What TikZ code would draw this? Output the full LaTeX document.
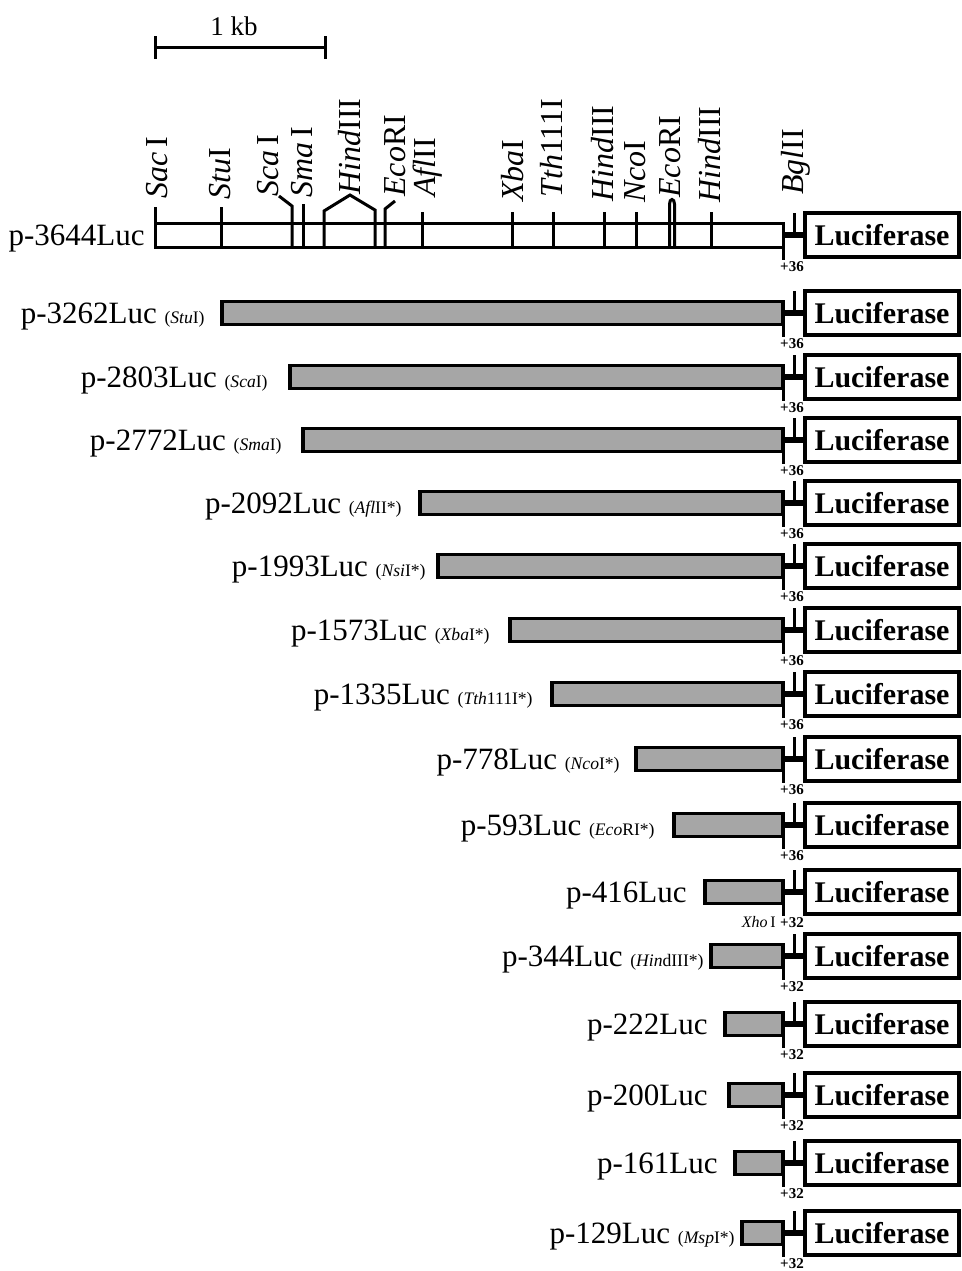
\documentclass[tikz,border=0pt]{standalone}
\usepackage{fontspec}
\setmainfont{Liberation Serif}
\newcommand\tagsz{\fontsize{8.8}{10}\selectfont}
\tikzset{
  thinline/.style={line width=1.5pt},
  maprect/.style={draw, line width=1.5pt, minimum height=12pt, inner sep=0pt, outer sep=0pt},
  barbox/.style={draw, line width=1.8pt, fill=black!35, minimum height=11.5pt, inner sep=0pt, outer sep=0pt},
  lucbox/.style={draw, line width=1.6pt, minimum width=77pt, minimum height=22pt, inner sep=0pt, outer sep=0pt,
    font=\fontsize{15}{17}\selectfont\bfseries},
  junction/.style={line width=2.8pt},
  rowlabel/.style={inner sep=0pt, anchor=base east, font=\fontsize{15.5}{18}\selectfont},
  sitelabel/.style={rotate=90, anchor=base west, inner sep=0pt, font=\fontsize{16}{18}\selectfont},
  junlabel/.style={inner sep=0pt, anchor=base, font=\fontsize{7.5}{9}\selectfont\bfseries},
}
% #1 id, #2 centre y, #3 bar left x, #4 label end x, #5 label, #6 junction label
\newcommand\constructrow[6]{%
  \node[barbox, minimum width={(783-#3)*0.5pt}, anchor=east] (bar#1) at (783,#2) {};
  \node[lucbox] (luc#1) at (882,#2) {Luciferase};
  \draw[junction] (bar#1.east) -- (luc#1.west);
  \coordinate (bgl#1) at (794,#2-22);
  \draw[thinline] (bgl#1) -- (bgl#1 |- luc#1.west);
  \coordinate (ext#1) at (783,#2+24);
  \draw[thinline] (bar#1.south east) -- (ext#1);
  \node[rowlabel] (lab#1) at (#4,#2+10) {#5};
  \node[junlabel] (pos#1) at (792,#2+35) {#6};
}
\begin{document}
\begin{tikzpicture}[x=0.5pt,y=-0.5pt]
\useasboundingbox (0,0) rectangle (962,1271);

% scale bar
\coordinate (sbL) at (155,47);
\coordinate (sbR) at (325,47);
\draw[thinline] (sbL) -- (sbR);
\draw[thinline] ([yshift=5.5pt]sbL) -- ([yshift=-6pt]sbL);
\draw[thinline] ([yshift=5.5pt]sbR) -- ([yshift=-6pt]sbR);
\node[inner sep=0pt, anchor=base, font=\fontsize{13.5}{15}\selectfont] (kb) at (234,35) {1 kb};

% full-length map
\node[maprect, minimum width={(783-155)*0.5pt}, anchor=west] (map) at (155,235) {};
\node[lucbox] (luc1) at (882,235) {Luciferase};
\draw[junction] (map.east) -- (luc1.west);
\coordinate (bgl1) at (794,213);
\draw[thinline] (bgl1) -- (bgl1 |- luc1.west);
\coordinate (ext1) at (783,260);
\draw[thinline] (map.north east) -- (ext1);
\node[rowlabel] (lab1) at (145,245) {p-3644Luc};
\node[junlabel] (pos1) at (792,271) {+36};

% site ticks
\draw[thinline] (155,247) -- (155,207);
\draw[thinline] (221,247) -- (221,207);
\draw[thinline] (292,247) -- (292,206) -- (279,196);
\draw[thinline] (303,247) -- (303,204);
\draw[thinline] (324,247) -- (324,211) -- (350,195) -- (375,210) -- (375,247);
\draw[thinline] (385,247) -- (385,209) -- (395,201);
\draw[thinline] (422,247) -- (422,212);
\draw[thinline] (512,247) -- (512,212);
\draw[thinline] (553,247) -- (553,212);
\draw[thinline] (604,247) -- (604,212);
\draw[thinline] (636,247) -- (636,212);
\draw[thinline] (669.5,247) -- (669.5,204) .. controls (669.5,198) and (674.5,198) .. (674.5,204) -- (674.5,247);
\draw[thinline] (711,247) -- (711,212);

% site labels
\node[sitelabel] (sSac)  at (167,199) {\textit{Sac}\,I};
\node[sitelabel] (sStu)  at (230,200) {\textit{Stu}I};
\node[sitelabel] (sSca)  at (278,197) {\textit{Sca}\,I};
\node[sitelabel] (sSma)  at (312,198) {\textit{Sma}\,I};
\node[sitelabel] (sHa)   at (360,195) {\textit{Hind}III};
\node[sitelabel] (sEa)   at (405,197) {\textit{Eco}RI};
\node[sitelabel] (sAfl)  at (435,197) {\textit{Afl}II};
\node[sitelabel] (sXba)  at (523,202) {\textit{Xba}I};
\node[sitelabel] (sTth)  at (562,198) {\textit{Tth}111I};
\node[sitelabel] (sHb)   at (613,202) {\textit{Hind}III};
\node[sitelabel] (sNco)  at (645,203) {\textit{Nco}I};
\node[sitelabel] (sEb)   at (680,198) {\textit{Eco}RI};
\node[sitelabel] (sHc)   at (720,203) {\textit{Hind}III};
\node[sitelabel] (sBgl)  at (803,195) {\textit{Bgl}II};

% deletion constructs
\constructrow{2}{313}{222}{205}{p-3262Luc {\tagsz(\textit{Stu}I)}}{+36}
\constructrow{3}{377}{290}{268}{p-2803Luc {\tagsz(\textit{Sca}I)}}{+36}
\constructrow{4}{440}{303}{282}{p-2772Luc {\tagsz(\textit{Sma}I)}}{+36}
\constructrow{5}{503}{420}{402}{p-2092Luc {\tagsz(\textit{Afl}II*)}}{+36}
\constructrow{6}{566}{438}{426}{p-1993Luc {\tagsz(\textit{Nsi}I*)}}{+36}
\constructrow{7}{630}{510}{490}{p-1573Luc {\tagsz(\textit{Xba}I*)}}{+36}
\constructrow{8}{694}{552}{533}{p-1335Luc {\tagsz(\textit{Tth}111I*)}}{+36}
\constructrow{9}{759}{636}{620}{p-778Luc {\tagsz(\textit{Nco}I*)}}{+36}
\constructrow{10}{825}{674}{655}{p-593Luc {\tagsz(\textit{Eco}RI*)}}{+36}
\constructrow{11}{892}{705}{687}{p-416Luc}{+32}
\node[inner sep=0pt, anchor=base east, font=\fontsize{8}{9}\selectfont] (xho) at (776,927) {\textit{Xho}\,I};
\constructrow{12}{956}{711}{704}{p-344Luc {\tagsz(\textit{Hin}dIII*)}}{+32}
\constructrow{13}{1024}{725}{708}{p-222Luc}{+32}
\constructrow{14}{1095}{729}{708}{p-200Luc}{+32}
\constructrow{15}{1163}{735}{718}{p-161Luc}{+32}
\constructrow{16}{1233}{742}{735}{p-129Luc {\tagsz(\textit{Msp}I*)}}{+32}
\end{tikzpicture}
\end{document}
